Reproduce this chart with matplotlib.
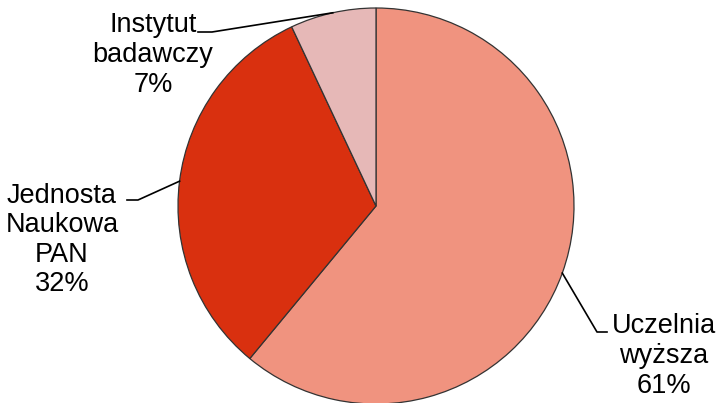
import numpy as np
import matplotlib.pyplot as plt

plt.rcParams['font.family'] = ['Liberation Sans', 'DejaVu Sans']

labels = ["Uczelnia\nwyższa", "Jednosta\nNaukowa\nPAN", "Instytut\nbadawczy"]
shares = [61, 32, 7]
colors = ["#F0937F", "#D9300F", "#E6B8B7"]

W, H = 718, 403
fig = plt.figure(figsize=(W / 100, H / 100), dpi=100)
ax = fig.add_axes([0, 0, 1, 1])
ax.axis("off")

cx, cy, r = 376, H - 206, 198
wedges, _ = ax.pie(shares, colors=colors, startangle=90, counterclock=False,
                   center=(cx, cy), radius=r,
                   wedgeprops=dict(edgecolor="#333333", linewidth=0.9))
ax.set_xlim(0, W)
ax.set_ylim(0, H)
ax.set_aspect("equal")

# label text position, elbow point, end of short horizontal tick
layout = [
    ((664, H - 356), (597, H - 332), (607, H - 332)),
    ((62, H - 240), (138, H - 200), (127, H - 200)),
    ((153, H - 55), (212, H - 32), (198, H - 32)),
]

for w, lab, pct, (tpos, elbow, end) in zip(wedges, labels, shares, layout):
    mid = np.deg2rad((w.theta1 + w.theta2) / 2)
    ax0 = cx + r * np.cos(mid)
    ay0 = cy + r * np.sin(mid)
    ax.plot([ax0, elbow[0], end[0]], [ay0, elbow[1], end[1]], color="black", lw=1.2)
    ax.text(tpos[0], tpos[1], f"{lab}\n{pct}%", ha="center", va="center",
            fontsize=19.5, linespacing=1.18)

fig.savefig("out.png", dpi=100)
